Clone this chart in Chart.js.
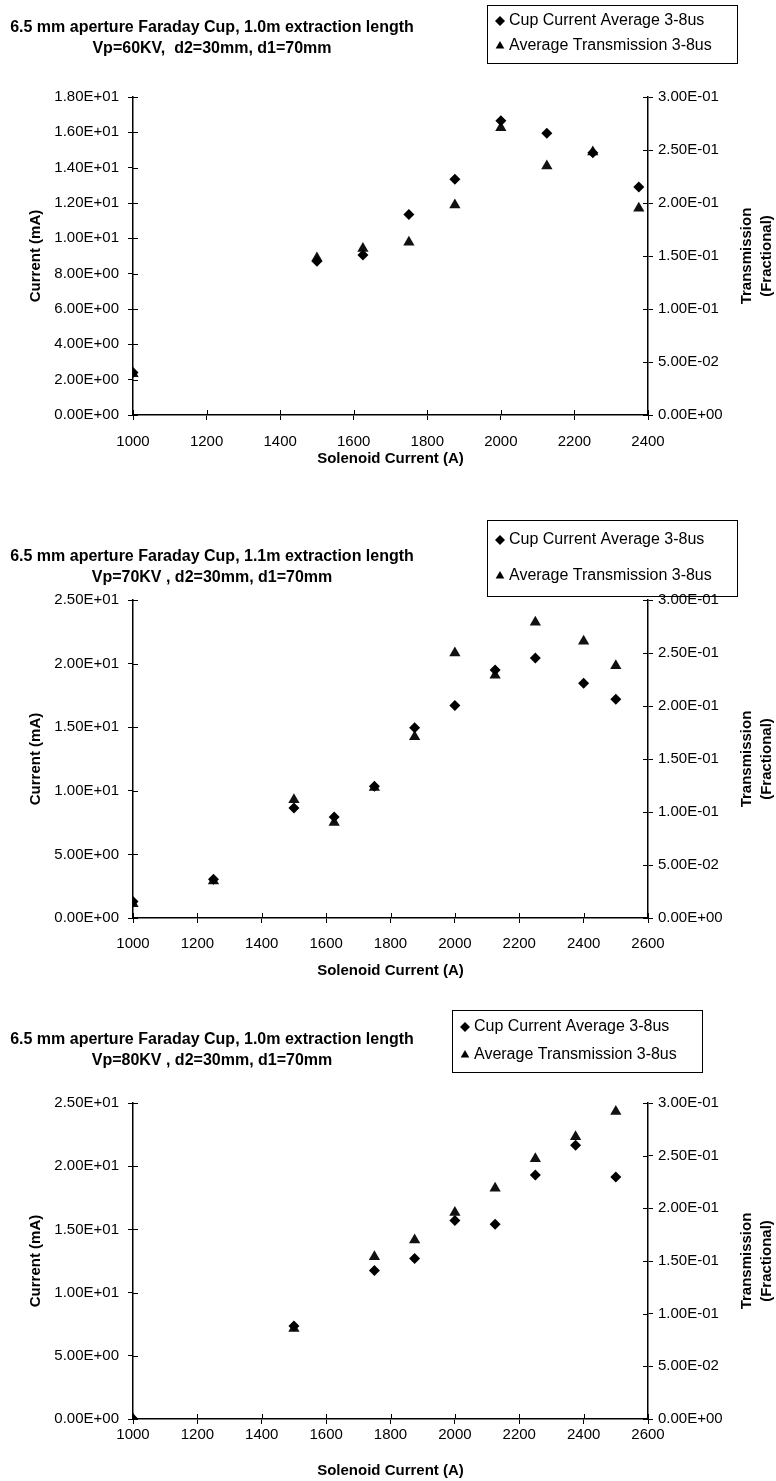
<!DOCTYPE html>
<html>
<head>
<meta charset="utf-8">
<script src="https://cdn.jsdelivr.net/npm/chart.js@4.4.1/dist/chart.umd.min.js"></script>
<style>
  body { margin: 0; background: #fff; width: 776px; height: 1481px; position: relative; overflow: hidden; }
  .panel { position: absolute; left: 0; width: 776px; }
</style>
</head>
<body>
<div class="panel" style="top:0;height:480px"><canvas id="c60"></canvas></div>
<div class="panel" style="top:480px;height:500px"><canvas id="c70"></canvas></div>
<div class="panel" style="top:980px;height:501px"><canvas id="c80"></canvas></div>
<script>
// values
const solenoid60 = [1000, 1500, 1625, 1750, 1875, 2000, 2125, 2250, 2375]
const cup60 = [2.4, 8.7, 9.05, 11.35, 13.35, 16.65, 15.95, 14.85, 12.9]
const trans60 = [0.039, 0.148, 0.157, 0.163, 0.198, 0.271, 0.235, 0.248, 0.195]

const solenoid70 = [1000, 1250, 1500, 1625, 1750, 1875, 2000, 2125, 2250, 2400, 2500]
const cup70 = [1.3, 3.05, 8.65, 7.95, 10.35, 14.95, 16.7, 19.5, 20.45, 18.45, 17.2]
const trans70 = [0.0135, 0.035, 0.1115, 0.09, 0.123, 0.171, 0.25, 0.229, 0.279, 0.261, 0.238]

const solenoid80 = [1000, 1500, 1750, 1875, 2000, 2125, 2250, 2375, 2500]
const cup80 = [0, 7.35, 11.75, 12.7, 15.7, 15.4, 19.3, 21.65, 19.15]
const trans80 = [0, 0.086, 0.154, 0.17, 0.196, 0.219, 0.247, 0.268, 0.292]

const seriesNames = ['Cup Current Average 3-8us', 'Average Transmission 3-8us']
const xTitle = 'Solenoid Current (A)'
const yTitle = 'Current (mA)'
const y1Title = ['Transmission', '(Fractional)']

const title60 = ['6.5 mm aperture Faraday Cup, 1.0m extraction length', 'Vp=60KV,  d2=30mm, d1=70mm']
const title70 = ['6.5 mm aperture Faraday Cup, 1.1m extraction length', 'Vp=70KV , d2=30mm, d1=70mm']
const title80 = ['6.5 mm aperture Faraday Cup, 1.0m extraction length', 'Vp=80KV , d2=30mm, d1=70mm']

const FONT = '"Liberation Sans", Arial, sans-serif'

// Excel style 1.80E+01
function sci(v) {
    let [m, e] = Number(v).toExponential(2).split('e')
    let n = Math.abs(parseInt(e))
    return m + 'E' + (e[0] === '-' ? '-' : '+') + (n < 10 ? '0' + n : n)
}

// tick marks that cross the axis lines
const crossTicks = {
    id: 'crossTicks',
    afterDatasetsDraw(chart) {
        const {ctx, chartArea: a, scales} = chart
        ctx.save()
        ctx.strokeStyle = '#000'
        ctx.lineWidth = 1
        ctx.beginPath()
        scales.x.ticks.forEach((t, i) => {
            const px = Math.round(scales.x.getPixelForTick(i)) + 0.5
            ctx.moveTo(px, a.bottom); ctx.lineTo(px, a.bottom - 5)
        })
        scales.y.ticks.forEach((t, i) => {
            const py = Math.round(scales.y.getPixelForTick(i)) + 0.5
            ctx.moveTo(a.left, py); ctx.lineTo(a.left + 5, py)
        })
        scales.y1.ticks.forEach((t, i) => {
            const py = Math.round(scales.y1.getPixelForTick(i)) + 0.5
            ctx.moveTo(a.right, py); ctx.lineTo(a.right - 5, py)
        })
        ctx.stroke()
        ctx.restore()
    }
}

// two line title, boxed legend and the bottom-to-top right axis title
const header = {
    id: 'header',
    afterDraw(chart, args, o) {
        const ctx = chart.ctx
        const a = chart.chartArea
        ctx.save()
        ctx.fillStyle = '#000'
        ctx.strokeStyle = '#000'
        ctx.textBaseline = 'middle'

        ctx.textAlign = 'center'
        ctx.font = 'bold 16px ' + FONT
        o.lines.forEach((t, i) => ctx.fillText(t, o.titleX, o.titleY[i]))

        const b = o.box
        ctx.lineWidth = 1
        ctx.strokeRect(b.x + 0.5, b.y + 0.5, b.w, b.h)
        ctx.textAlign = 'left'
        ctx.font = '16px ' + FONT
        chart.data.datasets.forEach((ds, i) => {
            const y = o.rowY[i]
            const style = {pointStyle: ds.pointStyle, radius: 5, borderWidth: 0}
            if (Chart.helpers && Chart.helpers.drawPoint) Chart.helpers.drawPoint(ctx, style, b.x + 13, y)
            ctx.fillText(ds.label, b.x + 22, y)
        })

        ctx.font = 'bold 15px ' + FONT
        ctx.textAlign = 'center'
        const cy = (a.top + a.bottom) / 2
        y1Title.forEach((t, i) => {
            ctx.save()
            ctx.translate(o.y1TitleX[i], cy)
            ctx.rotate(-Math.PI / 2)
            ctx.fillText(t, 0, 0)
            ctx.restore()
        })
        ctx.restore()
    }
}

function makeChart(id, xs, cup, trans, lines, L) {
    const cupPts = xs.map((x, i) => ({x: x, y: cup[i]}))
    const transPts = xs.map((x, i) => ({x: x, y: trans[i]}))
    return new Chart(document.getElementById(id), {
        type: 'scatter',
        data: {
            datasets: [{
                label: seriesNames[0],
                data: cupPts,
                yAxisID: 'y',
                pointStyle: 'rectRot',
                pointRadius: 5.5,
                backgroundColor: '#000',
                borderColor: '#000',
                borderWidth: 0
            }, {
                label: seriesNames[1],
                data: transPts,
                yAxisID: 'y1',
                pointStyle: 'triangle',
                pointRadius: 6.5,
                backgroundColor: '#111',
                borderColor: '#111',
                borderWidth: 0
            }]
        },
        options: {
            responsive: true,
            maintainAspectRatio: false,
            animation: false,
            events: [],
            layout: {padding: {top: L.top, left: 0, right: 0, bottom: 0}},
            plugins: {
                legend: {display: false},
                tooltip: {enabled: false},
                header: {lines: lines, titleX: 212, titleY: L.titleY, box: L.box, rowY: L.rowY, y1TitleX: [747, 767]}
            },
            scales: {
                x: {
                    type: 'linear',
                    position: 'bottom',
                    min: 1000,
                    max: L.xMax,
                    afterFit: s => { s.height = L.xHeight },
                    ticks: {stepSize: 200, callback: v => String(v), color: '#000', font: {family: FONT, size: 15}, padding: L.xPad, maxRotation: 0},
                    grid: {drawOnChartArea: false, color: '#000', tickLength: 5},
                    border: {color: '#000', width: 1.5},
                    title: {display: true, text: xTitle, color: '#000', font: {family: FONT, size: 15, weight: 'bold'}, padding: {top: 0, bottom: L.xTitlePad}}
                },
                y: {
                    position: 'left',
                    min: 0,
                    max: L.yMax,
                    afterFit: s => { s.width = 133 },
                    ticks: {stepSize: L.yStep, callback: v => sci(v), color: '#000', font: {family: FONT, size: 15}, padding: 9},
                    grid: {drawOnChartArea: false, color: '#000', tickLength: 5},
                    border: {color: '#000', width: 1.5},
                    title: {display: true, text: yTitle, color: '#000', font: {family: FONT, size: 15, weight: 'bold'}, padding: {top: 27, bottom: 0}}
                },
                y1: {
                    position: 'right',
                    min: 0,
                    max: 0.3,
                    afterFit: s => { s.width = 128 },
                    ticks: {stepSize: 0.05, callback: v => sci(v), color: '#000', font: {family: FONT, size: 15}, padding: 5},
                    grid: {drawOnChartArea: false, color: '#000', tickLength: 5},
                    border: {color: '#000', width: 1.5}
                }
            }
        },
        plugins: [crossTicks, header]
    })
}

makeChart('c60', solenoid60, cup60, trans60, title60, {
    top: 97, xHeight: 65, xMax: 2400, yMax: 18, yStep: 2, xPad: 13, xTitlePad: 12,
    titleY: [28, 49], box: {x: 487, y: 5, w: 250, h: 58}, rowY: [21, 46]
})
makeChart('c70', solenoid70, cup70, trans70, title70, {
    top: 120, xHeight: 62, xMax: 2600, yMax: 25, yStep: 5, xPad: 12, xTitlePad: 0,
    titleY: [77, 98], box: {x: 487, y: 40, w: 250, h: 76}, rowY: [60, 96]
})
makeChart('c80', solenoid80, cup80, trans80, title80, {
    top: 123, xHeight: 62, xMax: 2600, yMax: 25, yStep: 5, xPad: 2, xTitlePad: 1,
    titleY: [60, 81], box: {x: 452, y: 30, w: 250, h: 62}, rowY: [47, 75]
})
</script>
</body>
</html>
